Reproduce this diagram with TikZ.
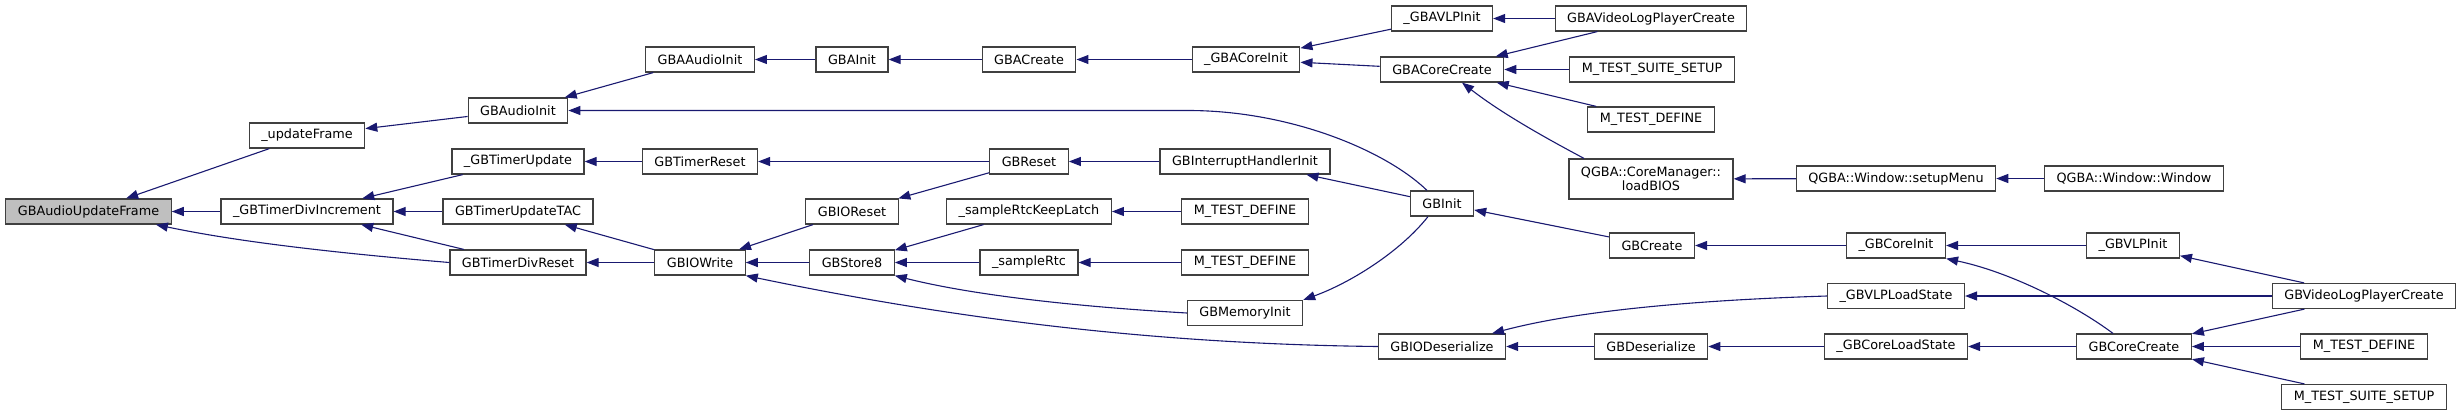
\documentclass[tikz,border=0pt]{standalone}
\usepackage{fontspec}
\setmainfont{DejaVu Sans}
\usetikzlibrary{arrows.meta}
\definecolor{edgeblue}{HTML}{191970}
\definecolor{boxline}{HTML}{404040}
\definecolor{mainfill}{HTML}{BFBFBF}
\begin{document}
\begin{tikzpicture}[
  x=1pt, y=-1pt,
  box/.style={draw=boxline, fill=white, line width=1.2pt, align=center, font=\fontsize{12.8}{14}\selectfont, inner xsep=12pt, inner ysep=0pt, minimum height=25pt},
  arrow/.style={-{Triangle[length=12pt, width=9pt]}, edgeblue, line width=1.1pt},
]
  \useasboundingbox (0,0) rectangle (2463,416);
  \node[box, fill=mainfill] (audioframe) at (88.5,211.5) {GBAudioUpdateFrame};
  \node[box] (updframe) at (307,135.5) {\_updateFrame};
  \node[box] (divinc) at (307,211.5) {\_GBTimerDivIncrement};
  \node[box] (audioinit) at (518,110.5) {GBAudioInit};
  \node[box] (timerupd) at (518,161.5) {\_GBTimerUpdate};
  \node[box] (updtac) at (518,211.5) {GBTimerUpdateTAC};
  \node[box] (divreset) at (518,262.5) {GBTimerDivReset};
  \node[box] (gbaaudio) at (700,59.5) {GBAAudioInit};
  \node[box] (timerreset) at (700,161.5) {GBTimerReset};
  \node[box] (iowrite) at (700,262.5) {GBIOWrite};
  \node[box] (gbainit) at (852,59.5) {GBAInit};
  \node[box] (ioreset) at (852,211.5) {GBIOReset};
  \node[box] (store) at (852,262.5) {GBStore8};
  \node[box] (gbacreate) at (1029,59.5) {GBACreate};
  \node[box] (gbreset) at (1029,161.5) {GBReset};
  \node[box] (keeplatch) at (1029,211.5) {\_sampleRtcKeepLatch};
  \node[box] (samplertc) at (1029,262.5) {\_sampleRtc};
  \node[box] (gbacoreinit) at (1246,59.5) {\_GBACoreInit};
  \node[box] (irqinit) at (1245,161.5) {GBInterruptHandlerInit};
  \node[box] (testdefa) at (1245,211.5) {M\_TEST\_DEFINE};
  \node[box] (testdefb) at (1245,262.5) {M\_TEST\_DEFINE};
  \node[box] (meminit) at (1245,313) {GBMemoryInit};
  \node[box] (gbavlpinit) at (1442,18.5) {\_GBAVLPInit};
  \node[box] (gbacorecreate) at (1442,69.5) {GBACoreCreate};
  \node[box] (gbinit) at (1442,203.5) {GBInit};
  \node[box] (iodeser) at (1442,346.5) {GBIODeserialize};
  \node[box] (gbavlpcreate) at (1651,18.5) {GBAVideoLogPlayerCreate};
  \node[box] (suitea) at (1652,69.5) {M\_TEST\_SUITE\_SETUP};
  \node[box] (testdefc) at (1651,119.5) {M\_TEST\_DEFINE};
  \node[box, minimum height=40pt] (loadbios) at (1651,179) {QGBA::CoreManager::\\loadBIOS};
  \node[box] (gbcreate) at (1652,245.5) {GBCreate};
  \node[box] (gbdeser) at (1651,346.5) {GBDeserialize};
  \node[box] (setupmenu) at (1896,178.5) {QGBA::Window::setupMenu};
  \node[box] (gbcoreinit) at (1896,245.5) {\_GBCoreInit};
  \node[box] (vlpload) at (1896,296) {\_GBVLPLoadState};
  \node[box] (coreload) at (1896,346.5) {\_GBCoreLoadState};
  \node[box] (window) at (2134,178.5) {QGBA::Window::Window};
  \node[box] (gbvlpinit) at (2133,245.5) {\_GBVLPInit};
  \node[box] (gbcorecreate) at (2134,346.5) {GBCoreCreate};
  \node[box] (gbvlpcreate) at (2364,296) {GBVideoLogPlayerCreate};
  \node[box] (testdefd) at (2364,346.5) {M\_TEST\_DEFINE};
  \node[box] (suiteb) at (2364,397) {M\_TEST\_SUITE\_SETUP};
  \draw[arrow] (updframe) -- (audioframe);
  \draw[arrow] (divinc) -- (audioframe);
  \draw[arrow] (divreset.west) .. controls (300,250) and (220,238) .. (audioframe.-11);
  \draw[arrow] (audioinit) -- (updframe);
  \draw[arrow] (timerupd) -- (divinc);
  \draw[arrow] (updtac) -- (divinc);
  \draw[arrow] (divreset) -- (divinc);
  \draw[arrow] (gbaaudio) -- (audioinit);
  \draw[arrow] ([xshift=-15pt]gbinit.north) .. controls (1385,150) and (1290,111) .. (1190,110.5) -- (audioinit.east);
  \draw[arrow] (timerreset) -- (timerupd);
  \draw[arrow] (iowrite) -- (updtac);
  \draw[arrow] (iowrite) -- (divreset);
  \draw[arrow] (gbainit) -- (gbaaudio);
  \draw[arrow] (gbreset) -- (timerreset);
  \draw[arrow] (ioreset) -- (iowrite);
  \draw[arrow] (store) -- (iowrite);
  \draw[arrow] (iodeser.west) .. controls (1150,344) and (950,318) .. (iowrite.south east);
  \draw[arrow] (gbacreate) -- (gbainit);
  \draw[arrow] (gbreset) -- (ioreset);
  \draw[arrow] (keeplatch) -- (store);
  \draw[arrow] (samplertc) -- (store);
  \draw[arrow] (meminit.west) .. controls (1050,305) and (960,292) .. (store.south east);
  \draw[arrow] (gbacoreinit) -- (gbacreate);
  \draw[arrow] (irqinit) -- (gbreset);
  \draw[arrow] (testdefa) -- (keeplatch);
  \draw[arrow] (testdefb) -- (samplertc);
  \draw[arrow] (gbinit) -- (irqinit);
  \draw[arrow] ([xshift=-14pt]gbinit.south) .. controls (1400,252) and (1350,283) .. (meminit.north east);
  \draw[arrow] (gbavlpinit) -- (gbacoreinit);
  \draw[arrow] (gbacorecreate) -- (gbacoreinit);
  \draw[arrow] (gbavlpcreate) -- (gbavlpinit);
  \draw[arrow] (gbavlpcreate) -- (gbacorecreate);
  \draw[arrow] (suitea) -- (gbacorecreate);
  \draw[arrow] (testdefc) -- (gbacorecreate);
  \draw[arrow] ([xshift=-67pt]loadbios.north) .. controls (1540,135) and (1500,112) .. ([xshift=20pt]gbacorecreate.south);
  \draw[arrow] (gbcreate) -- (gbinit);
  \draw[arrow] (setupmenu) -- (loadbios);
  \draw[arrow] (window) -- (setupmenu);
  \draw[arrow] (gbcoreinit) -- (gbcreate);
  \draw[arrow] (gbdeser) -- (iodeser);
  \draw[arrow] (vlpload.west) .. controls (1700,300) and (1580,310) .. ([xshift=50pt]iodeser.north);
  \draw[arrow] (coreload) -- (gbdeser);
  \draw[arrow] (gbvlpinit) -- (gbcoreinit);
  \draw[arrow] ([xshift=-21pt]gbcorecreate.north) .. controls (2075,305) and (2010,272) .. (gbcoreinit.south east);
  \draw[arrow] (gbvlpcreate) -- (gbvlpinit);
  \draw[arrow] (gbvlpcreate) -- (vlpload);
  \draw[arrow] (gbcorecreate) -- (coreload);
  \draw[arrow] (gbvlpcreate) -- (gbcorecreate);
  \draw[arrow] (testdefd) -- (gbcorecreate);
  \draw[arrow] (suiteb) -- (gbcorecreate);
\end{tikzpicture}
\end{document}
